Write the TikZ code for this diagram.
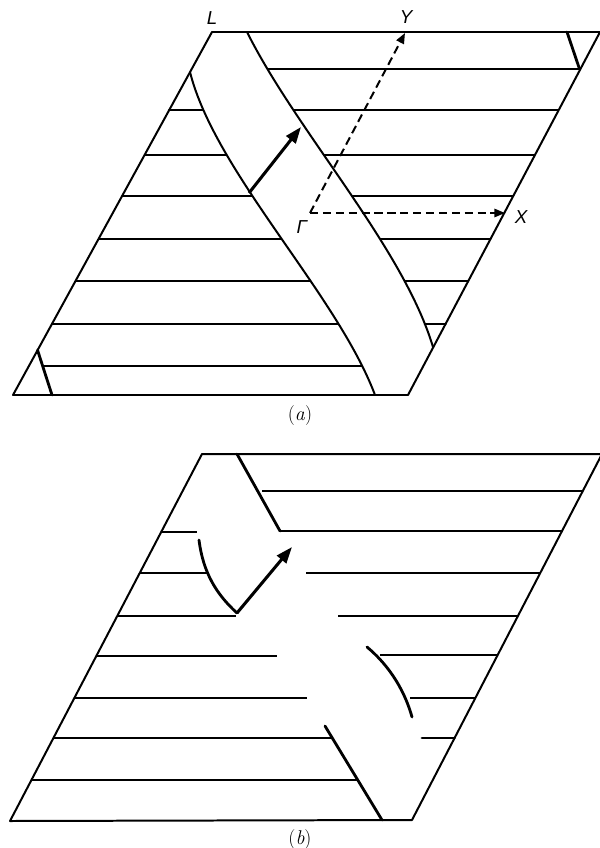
\documentclass[tikz,border=0pt]{standalone}
\usepackage{fontspec}
\newfontfamily\lblfont{Liberation Sans}
\usetikzlibrary{arrows.meta}
\begin{document}
\begin{tikzpicture}[x=0.03cm,y=-0.03cm,
  edge/.style={line width=1.7pt, line join=round},
  hline/.style={line width=1.1pt},
  thickseg/.style={line width=2.4pt, line cap=round},
  curveline/.style={line width=1.7pt},
  bigarrow/.style={line width=2.6pt,-{Triangle[length=14pt,width=10pt]}},
  dasharrow/.style={line width=1.7pt,dash pattern=on 7pt off 4pt,-{Triangle[length=9pt,width=7pt]}},
  lbl/.style={font=\lblfont\itshape\fontsize{16}{18}\selectfont},
  captxt/.style={font=\fontsize{17}{19}\selectfont}]
\useasboundingbox (0,0) rectangle (600,848);

% ---------------- panel (a) ----------------
\coordinate (aTL) at (212,32);
\coordinate (aTR) at (600,32);
\coordinate (aBR) at (408,395);
\coordinate (aBL) at (13,395);

\draw[hline] (191.7,69) -- (580.4,69);
\draw[hline] (169.2,110) -- (558.7,110);
\draw[hline] (144.6,155) -- (535,155);
\draw[hline] (122.1,196) -- (513.3,196);
\draw[hline] (98.5,239) -- (490.5,239);
\draw[hline] (75.5,281) -- (468.3,281);
\draw[hline] (51.9,324) -- (445.5,324);
\draw[hline] (43,366) -- (423.4,366);

% white band between the two curves
\fill[white] (190,72) .. controls (215,172) and (337,294) .. (375,395)
  -- (408,395) -- (433,347)
  .. controls (403,247) and (297,132) .. (247,32)
  -- (212,32) -- cycle;

\draw[curveline] (190,72) .. controls (215,172) and (337,294) .. (375,395);
\draw[curveline] (247,32) .. controls (297,132) and (403,247) .. (433,347);

\draw[thickseg] (169.2,110) -- (201,110);
\draw[thickseg] (425,324) -- (445.5,324);
\draw[thickseg] (567,32) -- (579.5,69);
\draw[thickseg] (37.5,350) -- (52,395);

\draw[edge] (aTL) -- (aTR) -- (aBR) -- (aBL) -- cycle;

\coordinate (aS) at (249,193);
\coordinate (aE) at (301,127);
\draw[bigarrow] (aS) -- (aE);

\coordinate (Gam) at (310,213);
\coordinate (Yt) at (405,33);
\coordinate (Xt) at (505,213);
\draw[dasharrow] (Gam) -- (Yt);
\draw[dasharrow] (Gam) -- (Xt);

\node[lbl] (L) at (212,18) {L};
\node[lbl] (Y) at (406,17) {Y};
\node[lbl] (X) at (521,217) {X};
\node[lbl] (G) at (302,227) {Γ};
\node[captxt] (capa) at (300,416) {(\textit{a})};

% ---------------- panel (b) ----------------
\coordinate (bTL) at (202,454);
\coordinate (bTR) at (602,454);
\coordinate (bBR) at (412,820);
\coordinate (bBL) at (10,821);

\draw[hline] (262,491) -- (583,491);
\draw[hline] (280,531) -- (562,531);
\draw[hline] (161,532) -- (197,532);
\draw[hline] (140,573) -- (207,573);
\draw[hline] (306,573) -- (540,573);
\draw[hline] (117,616) -- (236,616);
\draw[hline] (338,616) -- (518,616);
\draw[hline] (96,656) -- (277,656);
\draw[hline] (380,655) -- (497.6,655);
\draw[hline] (74,698) -- (307,698);
\draw[hline] (410,698) -- (475,698);
\draw[hline] (53,738) -- (332,738);
\draw[thickseg] (422,738) -- (454.6,738);
\draw[hline] (31,780) -- (358,780);

\draw[thickseg] (237,454) -- (280,531);
\draw[thickseg] (325,726) -- (382,820);

\draw[thickseg] (199,540) .. controls (203,572) and (216,594) .. (237,613);
\draw[thickseg] (367,647) .. controls (385,662) and (403,685) .. (412,717);

\draw[edge] (bTL) -- (bTR) -- (bBR) -- (bBL) -- cycle;

\coordinate (bS) at (237,613);
\coordinate (bE) at (292,547);
\draw[bigarrow] (bS) -- (bE);

\node[captxt] (capb) at (300,840) {(\textit{b})};
\end{tikzpicture}
\end{document}
